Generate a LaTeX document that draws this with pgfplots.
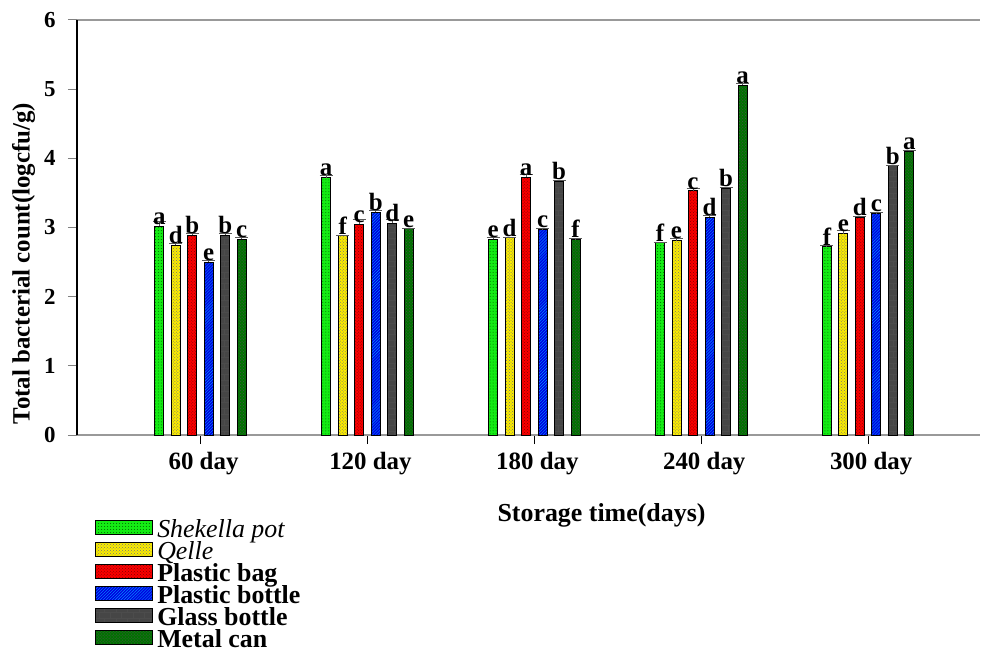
\documentclass[border=0pt]{standalone}
\usepackage{fontspec}
\setmainfont{Liberation Serif}
\usepackage{pgfplots}
\usepackage{pgfplotstable}
\pgfplotsset{compat=1.18}
\usetikzlibrary{patterns}

\definecolor{cShek}{RGB}{20,235,20}
\definecolor{cQelle}{RGB}{250,235,0}
\definecolor{cBag}{RGB}{250,0,0}
\definecolor{cBottle}{RGB}{0,0,225}
\definecolor{cGlass}{RGB}{70,70,70}
\definecolor{cMetal}{RGB}{0,115,0}

\pgfplotstableread{
x y e lab
0 3.02 0.07 a
1 3.72 0.03 a
2 2.83 0.02 e
3 2.78 0.01 f
4 2.72 0.02 f
}\tShek
\pgfplotstableread{
x y e lab
0 2.74 0.03 d
1 2.88 0.01 f
2 2.85 0.01 d
3 2.81 0.03 e
4 2.91 0.04 e
}\tQelle
\pgfplotstableread{
x y e lab
0 2.89 0.03 b
1 3.05 0.06 c
2 3.73 0.04 a
3 3.53 0.03 c
4 3.15 0.01 d
}\tBag
\pgfplotstableread{
x y e lab
0 2.50 0.02 e
1 3.22 0.02 b
2 2.97 0.01 c
3 3.15 0.03 d
4 3.20 0.01 c
}\tBottle
\pgfplotstableread{
x y e lab
0 2.89 0.03 b
1 3.06 0.06 d
2 3.67 0.01 b
3 3.57 0.01 b
4 3.89 0.01 b
}\tGlass
\pgfplotstableread{
x y e lab
0 2.83 0.02 c
1 2.98 0.01 e
2 2.83 0.01 f
3 5.06 0.02 a
4 4.10 0.02 a
}\tMetal

\begin{document}
\begin{tikzpicture}
\begin{axis}[
  scale only axis,
  width=903bp, height=415bp,
  xmin=-0.74, xmax=4.67,
  ymin=0, ymax=6,
  ytick={0,1,2,3,4,5,6},
  xtick={0,1,2,3,4},
  xticklabels={60 day,120 day,180 day,240 day,300 day},
  axis x line=box,
  axis y line=left,
  x axis line style={gray!80, line width=1.5bp, -},
  y axis line style={black, line width=1.5bp, -},
  tick align=outside,
  xtick pos=bottom,
  major tick length=9bp,
  xtick style={black, line width=1bp},
  ytick style={gray, line width=1bp},
  /pgf/number format/assume math mode=true,
  yticklabel style={font=\fontsize{23}{26}\selectfont\bfseries, xshift=-9bp},
  xticklabel style={font=\fontsize{25}{27}\selectfont\bfseries, yshift=-5bp, xshift=3bp},
  xlabel={Storage time(days)},
  xlabel style={font=\fontsize{26}{28}\selectfont\bfseries, yshift=-22bp, xshift=73bp},
  ylabel={Total bacterial count(logcfu/g)},
  ylabel style={font=\fontsize{25}{27}\selectfont\bfseries, xshift=-36bp, yshift=2bp},
  ybar=7.5bp,
  bar width=9bp,
  every axis plot/.append style={draw=black, line width=1bp},
  error bars/y dir=plus,
  error bars/y explicit,
  error bars/error bar style={gray!70!black, line width=1bp},
  error bars/error mark options={rotate=90, mark size=6.5bp, line width=1bp, gray!70!black},
  nodes near coords,
  point meta=explicit symbolic,
  every node near coord/.append style={font=\fontsize{25}{26}\selectfont\bfseries, black, anchor=south, yshift=0bp, inner sep=1bp},
  legend style={at={(axis description cs:0.02,-0.2)}, anchor=north west, draw=none, fill=none,
    font=\fontsize{26}{24}\selectfont, row sep=0.5bp, inner sep=0pt,
    nodes={inner xsep=4bp, inner ysep=1bp}, cells={anchor=west}},
  legend image code/.code={\draw[#1, line width=1bp] (0bp,-6bp) rectangle (57bp,8bp);},
  legend cell align=left,
]
\coordinate (O) at (rel axis cs:0,0);
\addplot[fill=cShek, postaction={pattern=dots, pattern color=green!40!black}]
  table[x=x, y=y, y error=e, meta=lab]{\tShek};
\addlegendentry{\itshape Shekella pot}
\addplot[fill=cQelle, postaction={pattern=crosshatch dots, pattern color=black!55}]
  table[x=x, y=y, y error=e, meta=lab]{\tQelle};
\addlegendentry{\itshape Qelle}
\addplot[fill=cBag, postaction={pattern=crosshatch dots, pattern color=red!50!black}]
  table[x=x, y=y, y error=e, meta=lab]{\tBag};
\addlegendentry{\bfseries Plastic bag}
\addplot[fill=cBottle, postaction={pattern=north east lines, pattern color=cyan!60!blue}]
  table[x=x, y=y, y error=e, meta=lab]{\tBottle};
\addlegendentry{\bfseries Plastic bottle}
\addplot[fill=cGlass, postaction={pattern=bricks, pattern color=black!70}]
  table[x=x, y=y, y error=e, meta=lab]{\tGlass};
\addlegendentry{\bfseries Glass bottle}
\addplot[fill=cMetal, postaction={pattern=crosshatch dots, pattern color=black!70}]
  table[x=x, y=y, y error=e, meta=lab]{\tMetal};
\addlegendentry{\bfseries Metal can}
\end{axis}
\pgfresetboundingbox
\path[use as bounding box] ([shift={(-77bp,-220bp)}]O) rectangle ([shift={(905bp,435bp)}]O);
\end{tikzpicture}
\end{document}
